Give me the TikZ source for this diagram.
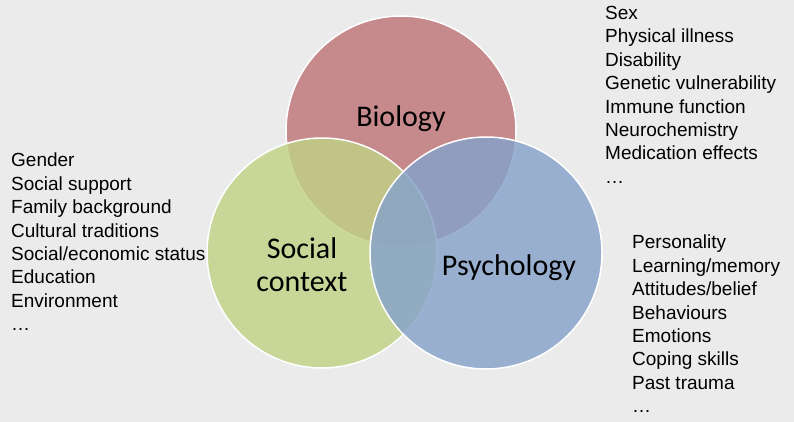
\documentclass[tikz,border=0pt]{standalone}
\usepackage{fontspec}
\setmainfont{Carlito}
\newfontfamily\lstfont{Liberation Sans}
\definecolor{bg}{HTML}{EBEBEB}
\definecolor{bio}{HTML}{BF7478}
\definecolor{soc}{HTML}{C1D286}
\definecolor{psy}{HTML}{86A2CB}
\tikzset{circ/.style={draw=white,line width=1.5pt,fill opacity=0.82},
 title/.style={font=\fontsize{30}{33}\selectfont,align=center},
 lst/.style={font=\lstfont\fontsize{19}{23.4}\selectfont,align=left,anchor=north west,inner sep=0pt}}
\begin{document}
\begin{tikzpicture}[x=1pt,y=-1pt]
\fill[bg] (0,0) rectangle (794,422);
\useasboundingbox (0,0) rectangle (794,422);
\path[circ,fill=bio] (401,131) circle (115);
\path[circ,fill=soc] (322,253) circle (115);
\path[circ,fill=psy] (486,253) circle (116);
\node[title] (b) at (401,119) {Biology};
\node[title] (s) at (302,265) {Social\\context};
\node[title] (p) at (509,268) {Psychology};
\node[lst] (l1) at (605,6) {Sex\\Physical illness\\Disability\\Genetic vulnerability\\Immune function\\Neurochemistry\\Medication effects\\\dots};
\node[lst] (l2) at (11,153) {Gender\\Social support\\Family background\\Cultural traditions\\Social/economic status\\Education\\Environment\\\dots};
\node[lst] (l3) at (632,235) {Personality\\Learning/memory\\Attitudes/belief\\Behaviours\\Emotions\\Coping skills\\Past trauma\\\dots};
\end{tikzpicture}
\end{document}
